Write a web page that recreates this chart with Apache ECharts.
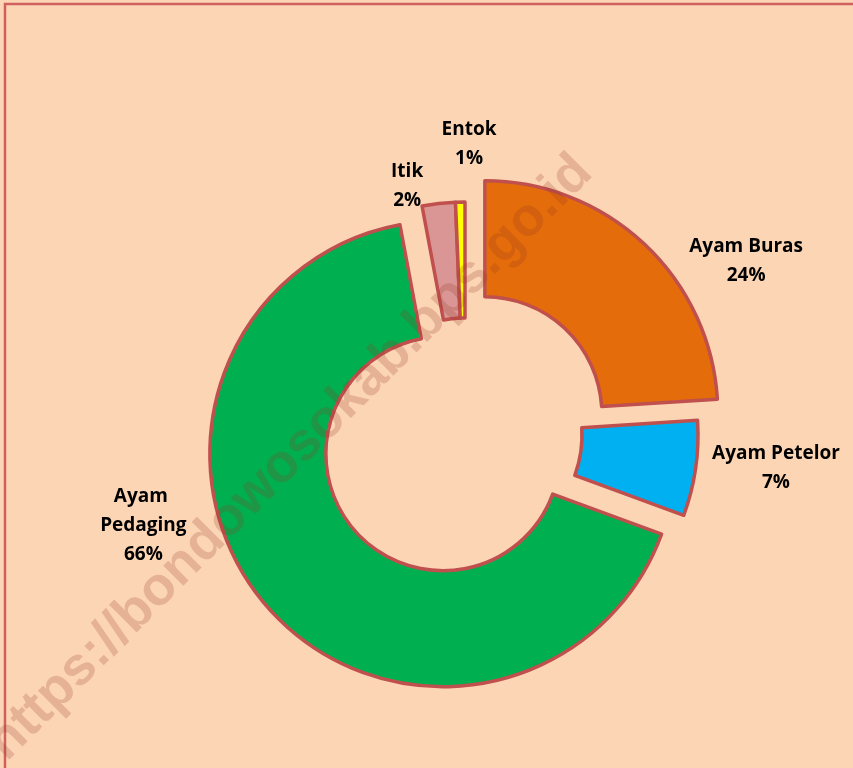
<!DOCTYPE html>
<html><head><meta charset="utf-8">
<script src="https://cdn.jsdelivr.net/npm/echarts@6/dist/echarts.min.js"></script>
<style>html,body{margin:0;padding:0;background:#FCD5B5;} #chart{width:853px;height:768px;}</style>
</head><body><div id="chart"></div>
<script>
// Data (shares, percent of total)
const categories = ['Ayam Buras', 'Ayam Petelor', 'Ayam Pedaging', 'Itik', 'Entok'];
const shares = [24.0, 6.6, 66.45, 2.3, 0.65];
const explodedSlices = ['Ayam Buras', 'Ayam Pedaging'];
const sliceColors = ['#E46C0A', '#00B0F0', '#00B050', '#D99694', '#FFFF00'];
// label placement (label line lengths, line itself hidden)
const labelLen = [-23, 0, -121, 17.6, 58];
const labelLen2 = [112.5, 75.4, 209, 24.6, -15];
const watermark = 'https://bondowosokab.bps.go.id';

const borderCol = '#C0504D';
const data = categories.map((name, i) => ({
  name: name,
  value: shares[i],
  selected: explodedSlices.indexOf(name) >= 0,
  itemStyle: { color: sliceColors[i] },
  labelLine: { show: false, length: labelLen[i], length2: labelLen2[i] },
  label: name === 'Ayam Pedaging' ? { width: 100, overflow: 'break' } : {}
}));

const chart = echarts.init(document.getElementById('chart'), null, { renderer: 'canvas' });
chart.setOption({
  animation: false,
  backgroundColor: '#FCD5B5',
  graphic: [
    { type: 'rect', z: 0, silent: true,
      shape: { x: 5, y: 4, width: 900, height: 820 },
      style: { fill: 'none', stroke: '#D0605F', lineWidth: 2.5 } },
    { type: 'text', z: 100, silent: true, x: 290, y: 458, rotation: Math.PI / 4,
      style: { text: watermark, fill: 'rgba(150,55,35,0.22)',
        font: 'bold 54px "Liberation Sans", Arial, sans-serif',
        align: 'center', verticalAlign: 'middle' } }
  ],
  series: [{
    type: 'pie',
    center: [465, 435],
    radius: [117, 233],
    startAngle: 90,
    clockwise: true,
    avoidLabelOverlap: false,
    selectedMode: 'multiple',
    selectedOffset: 29,
    percentPrecision: 0,
    emphasis: { disabled: true },
    itemStyle: { borderColor: borderCol, borderWidth: 3.5 },
    select: { itemStyle: { borderColor: borderCol, borderWidth: 3.5 } },
    label: {
      show: true, position: 'outside', formatter: '{b}\n{d}%',
      color: '#000', fontWeight: 'bold', fontSize: 19, lineHeight: 29,
      fontFamily: '"Open Sans", Lato, sans-serif', align: 'center'
    },
    labelLayout: function () { return { align: 'center', verticalAlign: 'middle' }; },
    data: data
  }]
});
</script></body></html>
